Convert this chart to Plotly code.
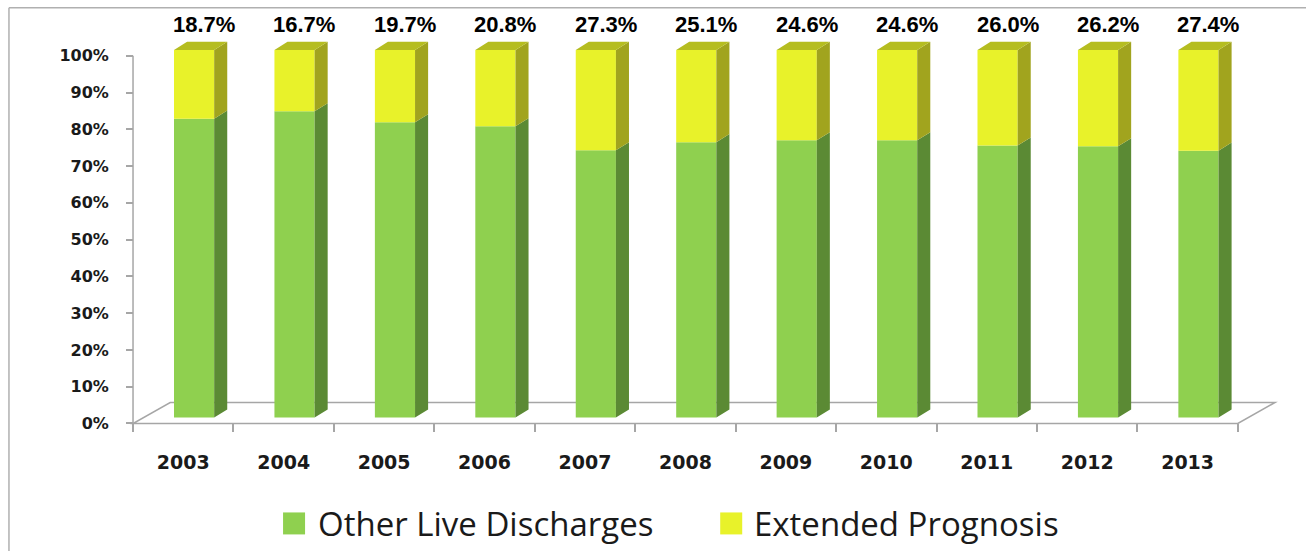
import plotly.graph_objects as go

# ---------------- data ----------------
years = ["2003", "2004", "2005", "2006", "2007", "2008", "2009", "2010", "2011", "2012", "2013"]
extended_prognosis = [18.7, 16.7, 19.7, 20.8, 27.3, 25.1, 24.6, 24.6, 26.0, 26.2, 27.4]
other_live = [round(100 - v, 1) for v in extended_prognosis]
y_ticks = [0, 10, 20, 30, 40, 50, 60, 70, 80, 90, 100]
y_tick_labels = [f"{v}%" for v in y_ticks]
series_names = ["Other Live Discharges", "Extended Prognosis"]

# ---------------- style / geometry ----------------
W, H = 1306, 551
GREEN, GREEN_SIDE = "#8fd04f", "#5b8a34"
YELLOW, YELLOW_SIDE, YELLOW_TOP = "#e8f22a", "#a1a41e", "#b5bd20"
AXIS_GRAY = "#a6a6a6"

XR = [-0.56, 10.9]
YR = [-1.5, 110]
L_M, R_M, T_M, B_M = 127, 28.4, 19.2, 121.5
PW = W - L_M - R_M
PH = H - T_M - B_M

BAR_W = 0.4
BAR_OFF = -0.092
SHIFT = 1.6          # vertical lift of the bars (3D depth position)
DX, DY = 0.13, 2.2   # bar depth
FDX, FDY = 0.37, 5.7  # floor depth

def px_x(p):
    return (p - L_M) / PW

def px_y(p):
    return (H - B_M - p) / PH

n = len(years)
xs = list(range(n))

fig = go.Figure()

# front faces
fig.add_trace(go.Bar(x=xs, y=other_live, base=[SHIFT] * n, width=BAR_W, offset=BAR_OFF,
                     marker=dict(color=GREEN, line=dict(width=0)), name=series_names[0], showlegend=False))
fig.add_trace(go.Bar(x=xs, y=extended_prognosis, base=[SHIFT + g for g in other_live], width=BAR_W,
                     offset=BAR_OFF, marker=dict(color=YELLOW, line=dict(width=0)),
                     name=series_names[1], showlegend=False))

def side_poly(bottoms, tops):
    px, py = [], []
    for i, (b, t) in enumerate(zip(bottoms, tops)):
        xr = i + BAR_OFF + BAR_W
        px += [xr, xr + DX, xr + DX, xr, xr, None]
        py += [b, b + DY, t + DY, t, b, None]
    return px, py

gx, gy = side_poly([SHIFT] * n, [SHIFT + g for g in other_live])
fig.add_trace(go.Scatter(x=gx, y=gy, mode="lines", fill="toself", fillcolor=GREEN_SIDE,
                         line=dict(width=0, color=GREEN_SIDE), hoverinfo="skip", showlegend=False))
yx, yy = side_poly([SHIFT + g for g in other_live], [SHIFT + g + e for g, e in zip(other_live, extended_prognosis)])
fig.add_trace(go.Scatter(x=yx, y=yy, mode="lines", fill="toself", fillcolor=YELLOW_SIDE,
                         line=dict(width=0, color=YELLOW_SIDE), hoverinfo="skip", showlegend=False))

# top faces
tx, ty = [], []
for i, (g, e) in enumerate(zip(other_live, extended_prognosis)):
    t = SHIFT + g + e
    xl = i + BAR_OFF
    xr = xl + BAR_W
    tx += [xl, xl + DX, xr + DX, xr, xl, None]
    ty += [t, t + DY, t + DY, t, t, None]
fig.add_trace(go.Scatter(x=tx, y=ty, mode="lines", fill="toself", fillcolor=YELLOW_TOP,
                         line=dict(width=0, color=YELLOW_TOP), hoverinfo="skip", showlegend=False))

# value labels
annotations = []
for i, e in enumerate(extended_prognosis):
    annotations.append(dict(x=i + 0.207, y=108.4, xref="x", yref="y", text=f"<b>{e:.1f}%</b>",
                            showarrow=False, font=dict(family="Liberation Sans", size=22, color="black"),
                            xanchor="center", yanchor="middle"))

shapes = []
# floor and vertical axis line (drawn beneath the bars)
x_left, x_right = -0.5, n - 0.5
floor_path = (f"M {x_left},0 L {x_right},0 L {x_right + FDX},{FDY} "
              f"L {x_left + FDX},{FDY} Z")
shapes.append(dict(type="path", xref="x", yref="y", path=floor_path, layer="below",
                   line=dict(color=AXIS_GRAY, width=1.5), fillcolor="rgba(0,0,0,0)"))
shapes.append(dict(type="line", xref="x", yref="y", x0=x_left, x1=x_left, y0=0, y1=y_ticks[-1],
                   layer="below", line=dict(color=AXIS_GRAY, width=1.5)))

# legend (manual)
legend_items = [(series_names[0], GREEN, 283, 316), (series_names[1], YELLOW, 720, 752)]
for name, col, sq_x, tx_x in legend_items:
    shapes.append(dict(type="rect", xref="paper", yref="paper",
                       x0=px_x(sq_x), x1=px_x(sq_x + 22), y0=px_y(535), y1=px_y(513),
                       fillcolor=col, line=dict(width=0)))
    annotations.append(dict(x=px_x(tx_x), y=px_y(524), xref="paper", yref="paper", text=name,
                            showarrow=False, xanchor="left", yanchor="middle",
                            font=dict(family="Open Sans", size=33, color="#1a1a1a")))

# outer border (left and top)
shapes.append(dict(type="line", xref="paper", yref="paper", x0=px_x(9), x1=px_x(9), y0=px_y(8), y1=px_y(560),
                   line=dict(color="#b0b0b0", width=1.5)))
shapes.append(dict(type="line", xref="paper", yref="paper", x0=px_x(9), x1=px_x(1320), y0=px_y(8), y1=px_y(8),
                   line=dict(color="#b0b0b0", width=1.5)))

fig.update_layout(
    width=W, height=H,
    margin=dict(l=L_M, r=R_M, t=T_M, b=B_M, pad=0),
    paper_bgcolor="white", plot_bgcolor="white",
    barmode="overlay",
    showlegend=False,
    annotations=annotations,
    shapes=shapes,
    xaxis=dict(range=XR, tickmode="array", tickvals=xs, ticktext=years, ticks="",
               showgrid=False, zeroline=False, showline=False,
               anchor="free", position=(0 - YR[0]) / (YR[1] - YR[0]),
               tickfont=dict(family="DejaVu Sans", size=19, color="#1a1a1a", weight="bold"),
               ticklabelstandoff=26,
               minor=dict(tickmode="linear", tick0=-0.5, dtick=1, ticks="outside", ticklen=8,
                          tickcolor=AXIS_GRAY, tickwidth=1.5, showgrid=False)),
    yaxis=dict(range=YR, tickmode="array", tickvals=y_ticks, ticktext=y_tick_labels,
               ticks="outside", ticklen=7, tickcolor=AXIS_GRAY, tickwidth=1.5,
               showgrid=False, zeroline=False, showline=False,
               anchor="free", position=(-0.5 - XR[0]) / (XR[1] - XR[0]),
               tickfont=dict(family="DejaVu Sans", size=16, color="#1a1a1a", weight="bold"),
               ticklabelstandoff=14),
)

fig.write_html("out.html", config={"displayModeBar": False},
               post_script="document.body.style.margin='0px';")
